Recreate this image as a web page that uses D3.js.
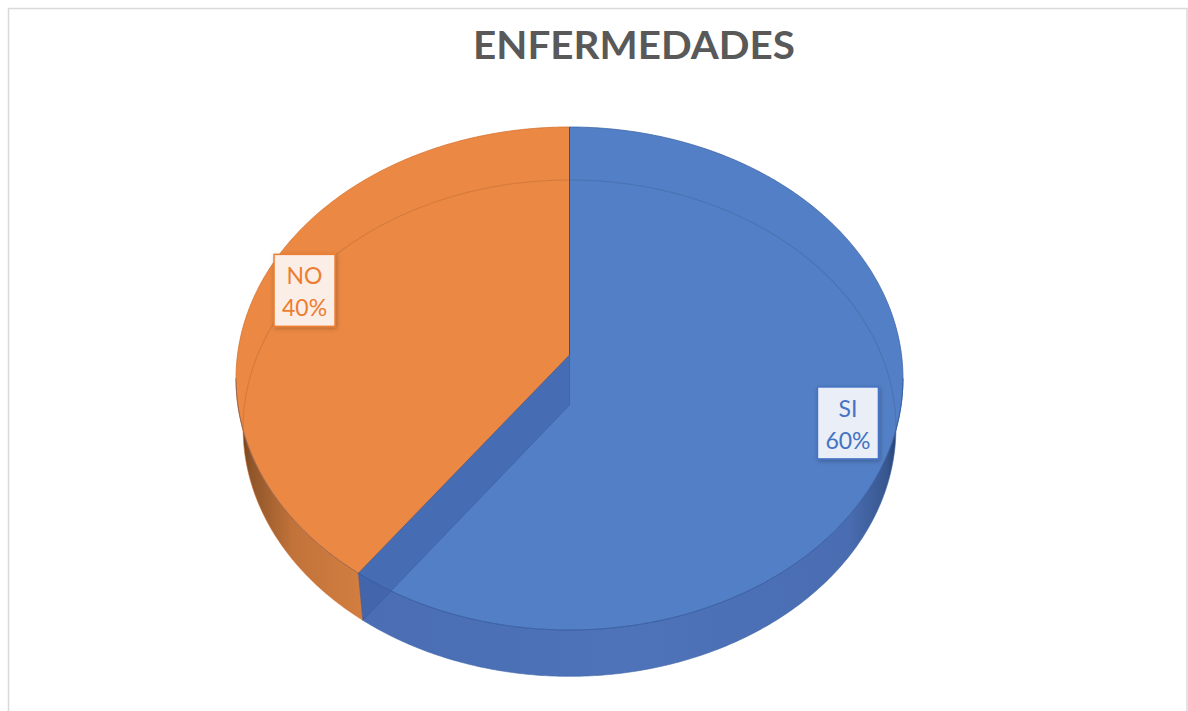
<html>
<head>
<script src="https://d3js.org/d3.v7.min.js"></script>
<style>
  body { margin: 0; background: #fff; }
  .title { font-family: Lato, sans-serif; font-weight: bold; fill: #595959; }
  .lbl { font-family: Lato, sans-serif; font-size: 23px; }
</style>
</head>
<body>
<div id="chart"></div>
<script>
// data
var categories = ["SI", "NO"];
var values = [60, 40];
var percentLabels = ["60%", "40%"];
var titleText = "ENFERMEDADES";

var width = 1188, height = 711;

// colours per slice
var topColors = ["#537FC6", "#EB8843"];
var edgeColors = ["#3D64A8", "#D4712F"];
var textColors = ["#4472C4", "#ED7D31"];
var boxFills = ["#E9EEF7", "#FBEEE6"];

// perspective ellipse for top and bottom faces
var k = 0.0934;
var faces = {
    top: {cx: 569.5, cy: 355, A: 332, B: 249.3},
    bot: {cx: 569.5, cy: 405, A: 325, B: 246}
};
function proj(t, r, f) {
    var p = faces[f];
    var X = r * Math.sin(t), Z = -r * Math.cos(t);
    var w = 1 - k * Z;
    return [p.cx + p.A * X / w, p.cy + p.B * Z / w];
}
function rim(a0, a1, f) {
    var n = Math.max(2, Math.ceil(Math.abs(a1 - a0) / 0.01));
    var pts = [];
    for (var i = 0; i <= n; i++) pts.push(proj(a0 + (a1 - a0) * i / n, 1, f));
    return pts;
}

var svg = d3.select("#chart").append("svg")
    .attr("width", width).attr("height", height);

var defs = svg.append("defs");
var shadow = defs.append("filter").attr("id", "shadow")
    .attr("x", "-20%").attr("y", "-20%").attr("width", "150%").attr("height", "150%");
shadow.append("feDropShadow").attr("dx", 1).attr("dy", 1.5)
    .attr("stdDeviation", 2).attr("flood-color", "#000").attr("flood-opacity", 0.25);

var gOr = defs.append("linearGradient").attr("id", "wall1")
    .attr("gradientUnits", "userSpaceOnUse").attr("x1", 236).attr("x2", 363).attr("y1", 0).attr("y2", 0);
[[0, "#5e3819"], [0.12, "#8f5629"], [0.45, "#c2733a"], [1, "#d27e40"]].forEach(function(s) {
    gOr.append("stop").attr("offset", s[0]).attr("stop-color", s[1]);
});
var gBl = defs.append("linearGradient").attr("id", "wall0")
    .attr("gradientUnits", "userSpaceOnUse").attr("x1", 358).attr("x2", 903).attr("y1", 0).attr("y2", 0);
[[0, "#4A6DB3"], [0.5, "#4E73B9"], [0.9, "#4A6DB2"], [0.97, "#38578F"], [1, "#1f3660"]].forEach(function(s) {
    gBl.append("stop").attr("offset", s[0]).attr("stop-color", s[1]);
});

// frame
svg.append("rect").attr("x", 8.5).attr("y", 8.5)
    .attr("width", 1178.5).attr("height", 720)
    .attr("fill", "none").attr("stroke", "#D9D9D9").attr("stroke-width", 1.5);

// title
svg.append("text").attr("class", "title")
    .attr("x", 634).attr("y", 59)
    .attr("text-anchor", "middle")
    .attr("font-size", 39)
    .attr("textLength", 322).attr("lengthAdjust", "spacingAndGlyphs")
    .text(titleText);

var pie = d3.pie().sort(null).value(function(d) { return d; });
var arcs = pie(values);

var line = d3.line();
var leftLimit = Math.PI * 1.5 - Math.asin(k), rightLimit = Math.PI / 2 + Math.asin(k);

// side walls (front only)
arcs.forEach(function(a, i) {
    var a0 = Math.max(a.startAngle, rightLimit), a1 = Math.min(a.endAngle, leftLimit);
    if (a1 <= a0) return;
    var pts = rim(a0, a1, "top").concat(rim(a0, a1, "bot").reverse());
    svg.append("path").attr("d", line(pts) + "Z")
        .attr("fill", "url(#wall" + i + ")")
        .attr("stroke", edgeColors[i]).attr("stroke-width", 0.6);
});

// top faces
arcs.forEach(function(a, i) {
    var pts = [proj(0, 0, "top")].concat(rim(a.startAngle, a.endAngle, "top"));
    svg.append("path").attr("d", line(pts) + "Z")
        .attr("fill", topColors[i])
        .attr("stroke", edgeColors[i]).attr("stroke-width", 0.8)
        .attr("stroke-linejoin", "round");
});

// far bottom rim seen through the faces
svg.append("path")
    .attr("d", line(rim(leftLimit - 2 * Math.PI, rightLimit, "bot")))
    .attr("fill", "none").attr("stroke", "#000").attr("stroke-opacity", 0.09).attr("stroke-width", 1.2);

// inner cut wall of the first slice seen through it
var cut = arcs[0].endAngle;
var quad = [proj(0, 0, "top"), proj(cut, 1, "top"), proj(cut, 1, "bot"), proj(0, 0, "bot")];
svg.append("path").attr("d", line(quad) + "Z")
    .attr("fill", "#3C5FA6").attr("fill-opacity", 0.55)
    .attr("stroke", "#34559a").attr("stroke-opacity", 0.6).attr("stroke-width", 0.8);

// split line at 12 o'clock
svg.append("path").attr("d", line([proj(0, 0, "top"), proj(0, 1, "top")]))
    .attr("stroke", "#2F528F").attr("stroke-width", 1);

// front top rim line
svg.append("path").attr("d", line(rim(rightLimit, leftLimit, "top")))
    .attr("fill", "none").attr("stroke", "#2F528F").attr("stroke-opacity", 0.35).attr("stroke-width", 1);

// labels
arcs.forEach(function(a, i) {
    var mid = (a.startAngle + a.endAngle) / 2;
    var c = proj(mid, 0.86, "top");
    var bw = 61, bh = 72;
    svg.append("rect")
        .attr("x", c[0] - bw / 2).attr("y", c[1] - bh / 2)
        .attr("width", bw).attr("height", bh)
        .attr("fill", boxFills[i]).attr("stroke", textColors[i]).attr("stroke-width", 1.5)
        .attr("filter", "url(#shadow)");
    svg.append("text").attr("class", "lbl")
        .attr("x", c[0]).attr("y", c[1] - 6).attr("text-anchor", "middle")
        .attr("fill", textColors[i]).text(categories[i]);
    svg.append("text").attr("class", "lbl")
        .attr("x", c[0]).attr("y", c[1] + 26).attr("text-anchor", "middle")
        .attr("fill", textColors[i]).text(percentLabels[i]);
});
</script>
</body>
</html>
